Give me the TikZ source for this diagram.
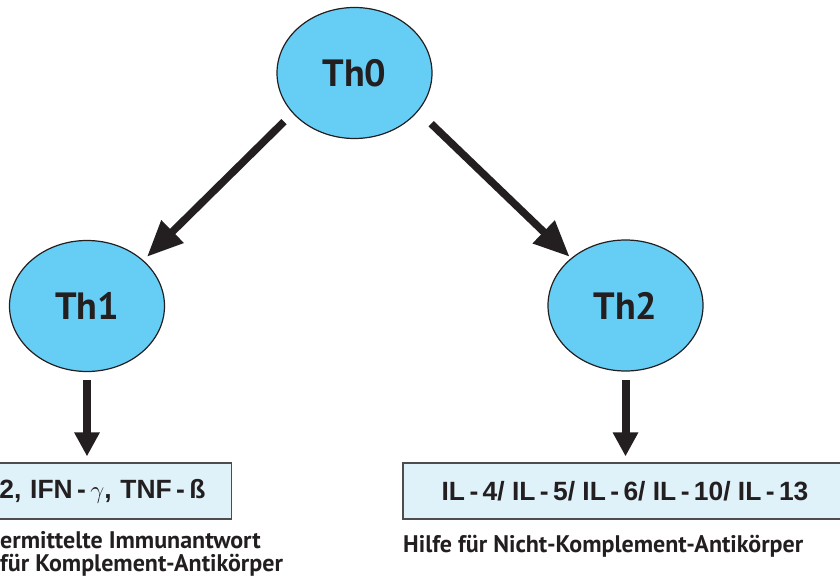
\documentclass[tikz,border=0pt]{standalone}
\usepackage{fontspec}
\setmainfont{PT Sans}
\newfontfamily\arial{Liberation Sans}
\usetikzlibrary{arrows.meta,shapes.geometric}
\definecolor{cellblau}{RGB}{102,206,245}
\definecolor{boxblau}{RGB}{223,242,250}
\definecolor{dunkel}{RGB}{35,31,32}

\begin{document}
\begin{tikzpicture}[x=1pt,y=-1pt]
  \tikzstyle{fleche}=[-{Triangle[length=36pt,width=30pt]},line width=7.5pt,draw=dunkel]
  \tikzstyle{pfeil}=[-{Triangle[length=24pt,width=24pt]},line width=8pt,draw=dunkel]
\tikzset{cellule/.style={ellipse,draw=dunkel,line width=1.2pt,fill=cellblau,
minimum width=155pt,minimum height=131pt,inner sep=0pt,text=dunkel,
font=\fontsize{38}{42}\selectfont\bfseries},
cytokine/.style={draw=dunkel!80,line width=1.2pt,fill=boxblau,minimum height=56pt,
inner sep=0pt,text=dunkel,font=\arial\fontsize{26.4}{30}\selectfont\bfseries},
legende/.style={inner sep=0pt,align=left,text=dunkel,
font=\fontsize{24}{23}\selectfont\bfseries}}
\useasboundingbox (0,0) rectangle (840,585);
\clip (0,0) rectangle (840,585);

\node[cellule] (th0) at (354.5,73){Th0};
\node[cellule] (th1) at (87,306){Th1};
\node[cellule] (th2) at (625.5,305.5){Th2};

\node[cytokine,text width=249pt,inner xsep=26pt,align=right] (il2) at (81,491){2, IFN\,-\,$\gamma$, TNF\,-\,ß};
\node[cytokine,minimum width=444pt] (il4) at (625,491){IL\,-\,4/ IL\,-\,5/ IL\,-\,6/ IL\,-\,10/ IL\,-\,13};

\node[legende,anchor=north west] (txt1) at (0,531){ermittelte Immunantwort\\für Komplement-Antikörper};
\node[legende,anchor=north west] (txt2) at (403,535){Hilfe für Nicht-Komplement-Antikörper};

\draw[fleche,shorten <=12pt,shorten >=5pt] (th0.213) -- (th1.39);
\draw[fleche,shorten <=18pt,shorten >=2pt] (th0.329) -- (th2.139);
\draw[pfeil,shorten <=8pt,shorten >=6pt] (th1.south) -- (th1.south |- il2.north);
\draw[pfeil,shorten <=8pt,shorten >=6pt] (th2.south) -- (th2.south |- il4.north);

  \end{tikzpicture}
\end{document}
